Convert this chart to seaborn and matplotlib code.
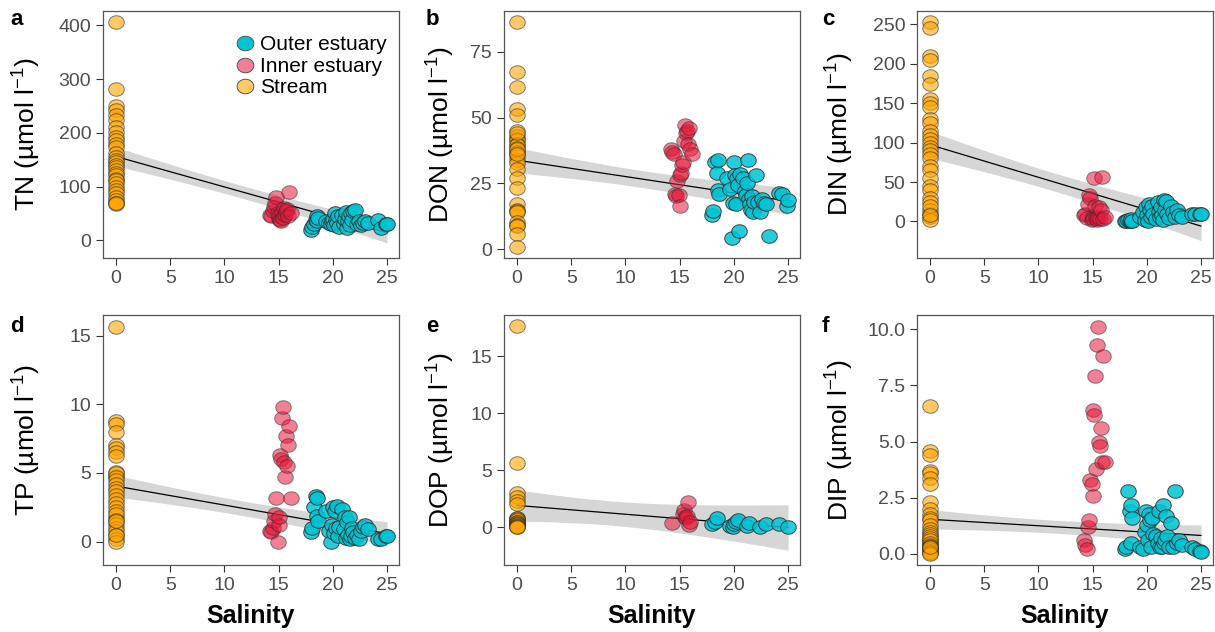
import numpy as np
import pandas as pd
import matplotlib
matplotlib.use('Agg')
import matplotlib.pyplot as plt
from matplotlib.path import Path
from matplotlib.lines import Line2D
import seaborn as sns

# --- Data ---
SITES = ['Outer estuary', 'Inner estuary', 'Stream']

STREAM_SAL = [0.0] * 32
INNER_SAL = [14.2, 14.3, 14.5, 14.6, 14.7, 14.8, 14.9, 15.0, 15.0, 15.1,
             15.2, 15.3, 15.4, 15.5, 15.6, 15.7, 15.8, 15.9, 16.0, 16.1]
OUTER_SAL = [18.0, 18.1, 18.3, 18.4, 18.5, 18.5, 18.6, 19.4, 19.6, 19.8,
             19.9, 20.0, 20.1, 20.2, 20.3, 20.4, 20.5, 20.6, 20.8, 21.0,
             21.1, 21.2, 21.3, 21.4, 21.5, 21.6, 21.7, 21.8, 21.9, 22.0,
             22.2, 22.4, 22.6, 22.8, 23.0, 23.2, 24.2, 24.4, 24.9, 25.0]

nan = np.nan

TN_STREAM = [406, 281, 250, 242, 233, 224, 211, 202, 193, 187, 180, 174, 162, 155, 150, 145,
             140, 137, 131, 125, 122, 115, 113, 106, 100, 94, 88, 80, 75, 70, 68, 70]
TN_INNER = [48, 45, 55, 62, 70, 80, 50, 40, 45, 38, 35, 52, 42, 60, 48, 55, 58, 45, 90, 50]
TN_OUTER = [20, 25, 30, 38, 45, 35, 42, 35, 33, 30, 35, 40, 28, 50, 38, 32, 45, 25, 48, 30,
            40, 52, 22, 35, 45, 28, 50, 38, 55, 56, 30, 35, 28, 32, 35, 33, 37, 22, 30, 30]

DON_STREAM = [86.4, 67.4, 61.5, 53.2, 51, 44.7, 43, 42, 41.6, 40, 39.7, 38.4, 37, 36.6, 35.3, 34,
              32.8, 30.3, 27.1, 23.3, 17, 15, 14.5, 13.9, 10.1, 9, 8.8, 5.7, 0.6, 44, 38, 36]
DON_INNER = [38, 37, 36, 21, 20, 26, 20.5, 16.5, 28, 29, 32, 33, 41, 47, 44, 45, 40, 46, 38, 36]
DON_OUTER = [13, 14.5, 33, 29, 34, 22.5, 21, 27, 23, 4.3, 17.5, 33, 28, 17, 27, 24.5, 7, 28.5, 27, 22,
             20.5, 25, 34, 19, 17, 15, 20, 14, 18, 28, 18, 14, 19, 17.5, 17, 5, 21.5, 21, 16.5, 18.5]

DIN_STREAM = [253, 245, 210, 205, 185, 175, 155, 150, 145, 130, 125, 115, 110, 105, 100, 95,
              90, 85, 80, 70, 65, 55, 45, 40, 30, 25, 15, 10, 5, 2, 20, 8]
DIN_INNER = [8, 10, 4, 22, 33, 30, 2, 5, 3, 55, 20, 4, 2, 6, 18, 3, 15, 56, 3, 5]
DIN_OUTER = [1, 0, 2, 1, 0, 3, 1, 5, 12, 2, 18, 8, 1, 22, 15, 5, 20, 10, 3, 25,
             12, 5, 18, 8, 2, 27, 15, 26, 10, 4, 20, 12, 6, 15, 8, 5, 9, 10, 9, 9]

TP_STREAM = [15.6, 8.8, 8.6, 8.0, 7.0, 6.8, 6.5, 6.2, 4.8, 1.8, 5.1, 5.0, 4.7, 4.5, 4.2, 3.9,
             3.7, 3.4, 3.1, 2.8, 2.5, 2.2, 2.0, 1.6, 1.3, 1.0, 0.8, 0.5, 0.2, 0.0, 1.5, 0.5]
TP_INNER = [0.8, 0.7, 1.0, 1.5, 2.0, 3.2, 0.0, 1.2, 1.8, 6.3, 6.0, 9.0, 9.8, 5.8, 4.7, 7.7, 5.5, 7.0, 8.4, 3.2]
TP_OUTER = [0.7, 1.0, 2.5, 3.3, 3.2, 1.9, 1.5, 2.2, 0.8, 0.0, 1.2, 2.5, 0.6, 2.2, 1.0, 2.6, 0.4, 1.1, 2.4, 0.9,
            1.8, 0.3, 1.4, 0.5, 1.8, 0.2, 0.4, 1.0, 0.7, 0.3, 0.5, 0.2, 0.8, 1.1, 1.2, 0.9, 0.2, 0.2, 0.4, 0.4]

# DOP was not measured in every sample (nan = no value)
DOP_STREAM = [17.6, 5.6, 3.0, 2.7, 2.3, 2.0, 0.8, 0.8, 0.7, 0.6, 0.5, 0.5, 0.4, 0.3, 0.3, 0.2,
              0.1, 0.1, 0.0, 0.0, nan, nan, nan, nan, nan, nan, nan, nan, nan, nan, nan, nan]
DOP_INNER = [nan, 0.35, nan, nan, nan, nan, nan, nan, nan, nan, nan, 1.2, 1.5, 0.9, 0.8, 1.0, 2.2, 0.2, 0.5, nan]
DOP_OUTER = [0.3, nan, 0.5, 0.8, nan, nan, nan, nan, 0.1, nan, 0.0, 0.3, nan, 0.5, nan, 0.6, nan, nan, nan, nan,
             nan, 0.1, nan, 0.4, nan, nan, nan, nan, nan, nan, nan, 0.0, nan, nan, 0.3, nan, 0.25, nan, nan, 0.05]

DIP_STREAM = [6.6, 4.6, 4.4, 3.7, 3.6, 3.4, 3.1, 0.6, 0.5, 2.3, 2.0, 1.8, 1.6, 1.5, 1.3, 1.1,
              1.0, 0.9, 0.8, 0.7, 0.6, 0.5, 0.4, 0.35, 0.3, 0.25, 0.2, 0.15, 0.1, 0.05, 0.0, 0.3]
DIP_INNER = [0.6, 0.4, 0.2, 1.2, 1.5, 3.3, 3.1, 2.6, 6.4, 6.2, 7.9, 3.8, 9.3, 10.1, 5.0, 4.8, 5.6, 4.1, 8.8, 4.1]
DIP_OUTER = [0.2, 0.3, 2.8, 1.9, 2.2, 0.5, 1.6, 0.3, 0.2, 1.0, 1.9, 1.3, 0.6, 1.8, 1.5, 0.3, 1.6, 0.9, 0.8, 0.5,
             1.9, 0.3, 0.7, 0.3, 2.2, 0.5, 0.6, 1.7, 0.8, 0.3, 1.4, 0.3, 2.8, 0.5, 0.6, 0.4, 0.3, 0.2, 0.15, 0.1]

# --- Panel configuration ---
PANELS = [
    ('a', 'TN', TN_STREAM, TN_INNER, TN_OUTER, [0, 100, 200, 300, 400], ['0', '100', '200', '300', '400'], (-33, 427)),
    ('b', 'DON', DON_STREAM, DON_INNER, DON_OUTER, [0, 25, 50, 75], ['0', '25', '50', '75'], (-3.4, 90.5)),
    ('c', 'DIN', DIN_STREAM, DIN_INNER, DIN_OUTER, [0, 50, 100, 150, 200, 250], ['0', '50', '100', '150', '200', '250'], (-46.4, 267)),
    ('d', 'TP', TP_STREAM, TP_INNER, TP_OUTER, [0, 5, 10, 15], ['0', '5', '10', '15'], (-1.7, 16.5)),
    ('e', 'DOP', DOP_STREAM, DOP_INNER, DOP_OUTER, [0, 5, 10, 15], ['0', '5', '10', '15'], (-3.3, 18.6)),
    ('f', 'DIP', DIP_STREAM, DIP_INNER, DIP_OUTER, [0, 2.5, 5, 7.5, 10], ['0.0', '2.5', '5.0', '7.5', '10.0'], (-0.49, 10.63)),
]

COLORS = {'Stream': '#FFA500', 'Inner estuary': '#E8193C', 'Outer estuary': '#00C4D4'}
ALPHAS = {'Stream': 0.6, 'Inner estuary': 0.55, 'Outer estuary': 0.85}

# axes boxes in pixels
W, H = 1215, 632
COL_LEFT = [103, 504, 917]
ROW_TOP = [11, 315]
ROW_BOTTOM = [258, 565]
AX_W = 296
YLAB_X = [-0.257, -0.214, -0.262]
LETTER_X = [10, 426, 822]
LETTER_BASE = [25, 332]

# --- Style ---
sns.set_style('white')
plt.rcParams['font.family'] = ['Liberation Sans', 'DejaVu Sans']
plt.rcParams['mathtext.fontset'] = 'custom'
plt.rcParams['mathtext.rm'] = 'Liberation Sans'
plt.rcParams['mathtext.it'] = 'Liberation Sans:italic'
plt.rcParams['mathtext.bf'] = 'Liberation Sans:bold'

# slightly wide ellipse marker, as in the reference image
theta = np.linspace(0, 2 * np.pi, 64)
ELLIPSE = Path(np.column_stack([1.15 * np.cos(theta), np.sin(theta)]), closed=True)


def make_frame(stream, inner, outer):
    df = pd.DataFrame({
        'salinity': STREAM_SAL + INNER_SAL + OUTER_SAL,
        'value': list(stream) + list(inner) + list(outer),
        'site': ['Stream'] * len(STREAM_SAL) + ['Inner estuary'] * len(INNER_SAL) + ['Outer estuary'] * len(OUTER_SAL),
    })
    return df.dropna()


def lm_band(x, y, ax):
    """95% confidence band of an ordinary least squares fit (like geom_smooth(method='lm'))."""
    x = np.asarray(x, float)
    y = np.asarray(y, float)
    n = len(x)
    slope, intercept = np.polyfit(x, y, 1)
    resid = y - (intercept + slope * x)
    dof = n - 2
    s = np.sqrt(np.sum(resid ** 2) / dof)
    z = 1.959964
    t = z + (z ** 3 + z) / (4 * dof) + (5 * z ** 5 + 16 * z ** 3 + 3 * z) / (96 * dof ** 2)
    grid = np.linspace(x.min(), x.max(), 100)
    se = s * np.sqrt(1 / n + (grid - x.mean()) ** 2 / np.sum((x - x.mean()) ** 2))
    fit = intercept + slope * grid
    ax.fill_between(grid, fit - t * se, fit + t * se, color='#999999', alpha=0.4,
                    linewidth=0, zorder=1)


fig = plt.figure(figsize=(W / 100, H / 100), dpi=100)

for i, (letter, name, stream, inner, outer, yticks, yticklabels, ylim) in enumerate(PANELS):
    row, col = divmod(i, 3)
    left = COL_LEFT[col] / W
    bottom = 1 - ROW_BOTTOM[row] / H
    height = (ROW_BOTTOM[row] - ROW_TOP[row]) / H
    ax = fig.add_axes([left, bottom, AX_W / W, height])

    df = make_frame(stream, inner, outer)

    # linear fit on stream and outer estuary samples
    fit_df = df[df['site'] != 'Inner estuary']
    lm_band(fit_df['salinity'], fit_df['value'], ax)
    sns.regplot(data=fit_df, x='salinity', y='value', scatter=False, ci=None,
                color='black', line_kws={'lw': 0.9, 'zorder': 2}, ax=ax)

    for site in ['Stream', 'Inner estuary', 'Outer estuary']:
        sub = df[df['site'] == site]
        sns.scatterplot(data=sub, x='salinity', y='value', ax=ax, marker=ELLIPSE, s=125,
                        color=COLORS[site], alpha=ALPHAS[site],
                        edgecolor='#2b2b2b', linewidth=0.7, zorder=3)

    ax.set_xlim(-1.2, 26.1)
    ax.set_ylim(*ylim)
    ax.set_xticks([0, 5, 10, 15, 20, 25])
    ax.set_yticks(yticks)
    ax.set_yticklabels(yticklabels)
    ax.tick_params(bottom=True, left=True, direction='out', length=5, width=0.8, color='#333333',
                   labelcolor='#4D4D4D', labelsize=14, pad=3.5)
    for sp in ax.spines.values():
        sp.set_color('#555555')
        sp.set_linewidth(0.9)

    ax.set_ylabel(name + r' (µmol l$^{-1}$)', fontsize=19, color='black', va='center')
    ax.yaxis.set_label_coords(YLAB_X[col], 0.5)
    if row == 1:
        ax.set_xlabel('Salinity', fontsize=18, fontweight='bold', color='black', labelpad=7)
    else:
        ax.set_xlabel('')

    fig.text(LETTER_X[col] / W, 1 - LETTER_BASE[row] / H, letter, fontsize=16, color='black',
             fontweight='bold', ha='left', va='baseline')

    if letter == 'a':
        handles = [Line2D([], [], linestyle='none', marker=ELLIPSE, markersize=12,
                          markerfacecolor=matplotlib.colors.to_rgba(COLORS[s], ALPHAS[s] if s != 'Outer estuary' else 1.0),
                          markeredgecolor='#555555', markeredgewidth=0.7)
                   for s in SITES]
        ax.legend(handles, SITES, loc='upper right', bbox_to_anchor=(0.965, 0.91),
                  frameon=False, fontsize=15, handletextpad=0.2, labelspacing=0.12,
                  borderaxespad=0, borderpad=0.1, handlelength=1.0, labelcolor='black')

fig.savefig('out.png', dpi=100)
